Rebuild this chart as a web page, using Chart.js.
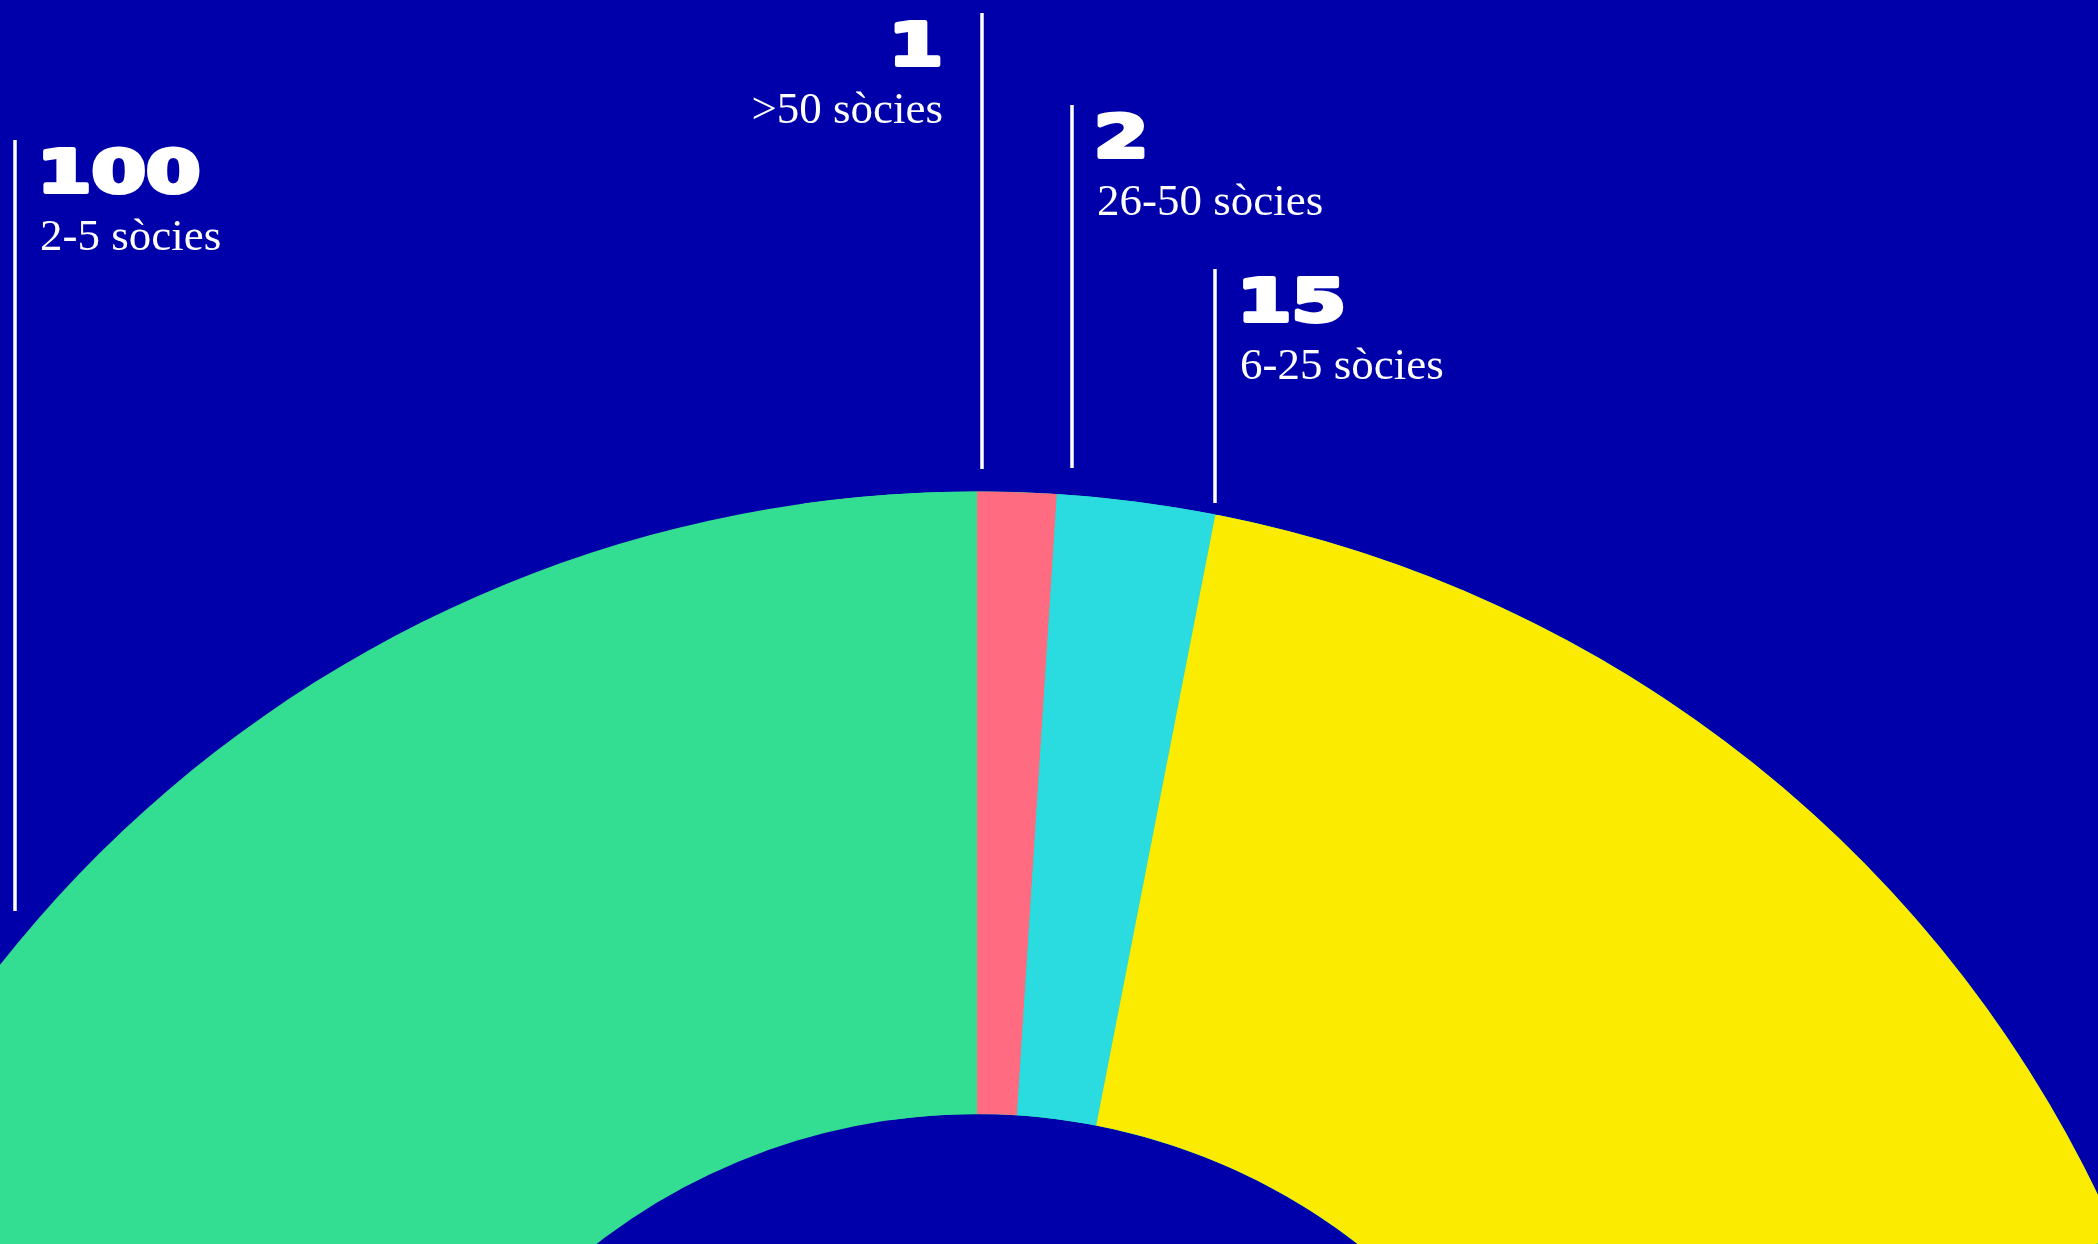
<!DOCTYPE html>
<html>
<head>
<meta charset="utf-8">
<script src="https://cdn.jsdelivr.net/npm/chart.js@4"></script>
<style>
  html, body { margin: 0; padding: 0; width: 2098px; height: 1244px; overflow: hidden; background: #0000AA; }
  #chart { position: absolute; left: -268px; top: 0; }
</style>
</head>
<body>
<canvas id="chart" width="2490" height="2982"></canvas>
<script>
// data
const categories = ["2-5 sòcies", ">50 sòcies", "26-50 sòcies", "6-25 sòcies"];
const counts = [100, 1, 2, 15];
const colors = ["#33DD91", "#FF6B80", "#2ADBE0", "#FAEB00"];

// in the original 100 fills the whole ring and the small groups sit on top of it
const degPerUnit = 3.68;
const total = counts.reduce((a, b) => a + b, 0);

// where the callout lines go (page pixels)
const callouts = [
  { x: 15, top: 140, bottom: 911, side: "right" },
  { x: 982, top: 13, bottom: 469, side: "left" },
  { x: 1072, top: 105, bottom: 468, side: "right" },
  { x: 1215, top: 269, bottom: 503, side: "right" },
];

const canvasLeft = -268;

//draw the numbers + leader lines
const calloutPlugin = {
  id: "callouts",
  afterDraw(chart) {
    const ctx = chart.ctx;
    ctx.save();
    ctx.translate(-canvasLeft, 0);
    ctx.fillStyle = "#fff";
    ctx.strokeStyle = "#fff";
    callouts.forEach((c, i) => {
      ctx.lineWidth = 3.5;
      ctx.beginPath();
      ctx.moveTo(c.x, c.top);
      ctx.lineTo(c.x, c.bottom);
      ctx.stroke();

      let right = c.side == "right";
      let tx = right ? c.x + 25 : c.x - 39;
      ctx.textAlign = right ? "left" : "right";
      ctx.textBaseline = "alphabetic";

      // wide heavy numbers: stretch a bold sans and thicken it
      ctx.save();
      ctx.translate(right ? tx - 3 : tx, c.top + 52);
      ctx.scale(1.35, 1);
      ctx.font = "bold 58px 'DejaVu Sans'";
      ctx.lineWidth = 4;
      ctx.lineJoin = "round";
      ctx.strokeText(String(counts[i]), 0, 0);
      ctx.fillText(String(counts[i]), 0, 0);
      ctx.restore();

      ctx.font = "45px 'Liberation Serif'";
      ctx.fillText(categories[i], tx, c.top + 110);
    });
    ctx.restore();
  },
};

const ctx = document.getElementById("chart").getContext("2d");
const chart = new Chart(ctx, {
  type: "doughnut",
  data: {
    labels: categories,
    datasets: [
      {
        data: counts,
        backgroundColor: colors,
        borderWidth: 0,
        hoverOffset: 0,
      },
    ],
  },
  options: {
    responsive: false,
    animation: false,
    devicePixelRatio: 1,
    cutout: "50%",
    rotation: 360 - counts[0] * degPerUnit,
    circumference: total * degPerUnit,
    layout: { padding: { top: 491 } },
    plugins: {
      legend: { display: false },
      tooltip: { enabled: false },
    },
  },
  plugins: [calloutPlugin],
});
</script>
</body>
</html>
